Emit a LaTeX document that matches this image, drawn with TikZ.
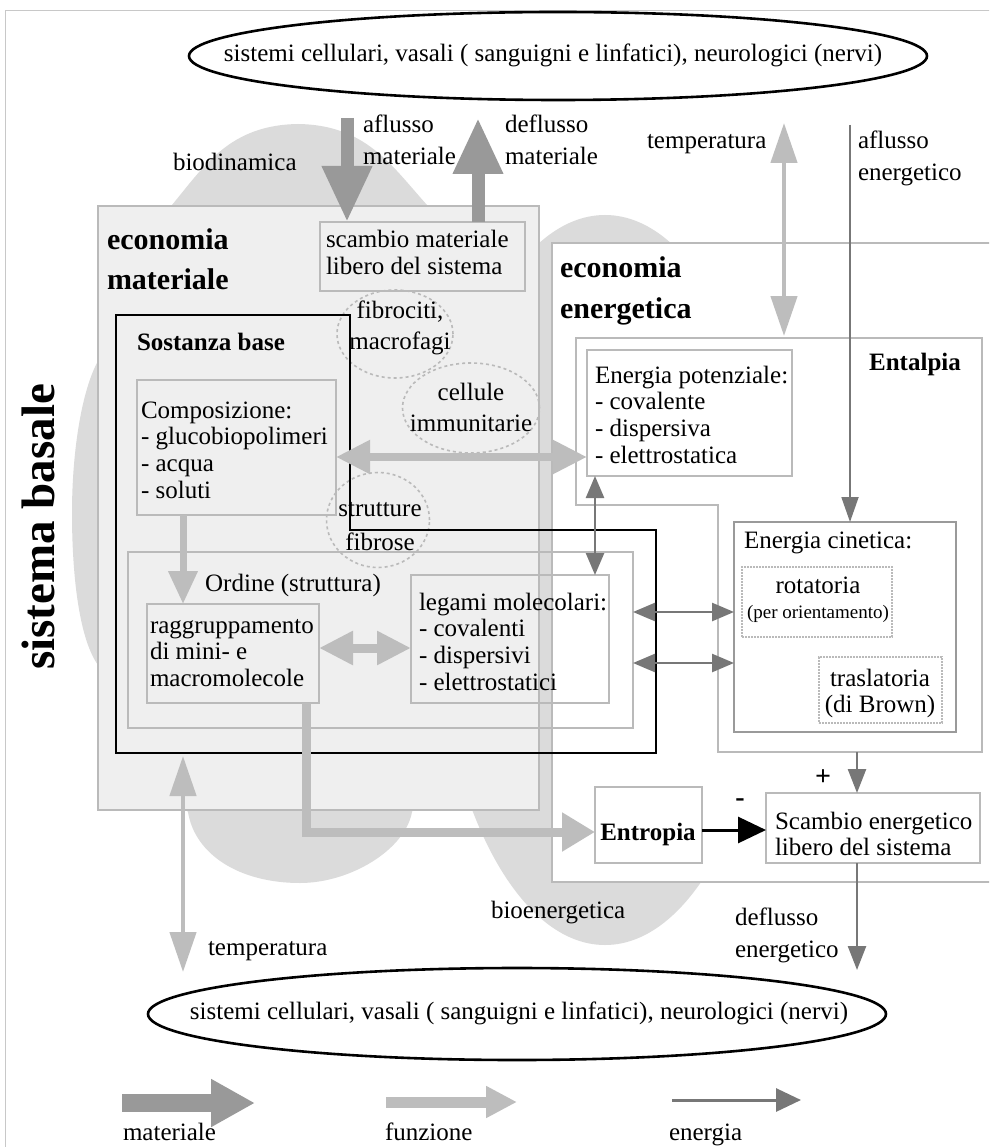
\documentclass[tikz,border=0pt]{standalone}
\usepackage{fontspec}
\setmainfont{Liberation Serif}
\usetikzlibrary{arrows.meta,shapes.geometric}
\definecolor{blobgray}{HTML}{DBDBDB}
\definecolor{matfill}{HTML}{EFEFEF}
\definecolor{boxline}{HTML}{BABABA}
\definecolor{framegray}{HTML}{C8C8C8}
\definecolor{matarrow}{HTML}{999999}
\definecolor{funarrow}{HTML}{BDBDBD}
\definecolor{enarrow}{HTML}{777777}
\definecolor{cinline}{HTML}{9A9A9A}
\newcommand\Lft[1]{\begin{tabular}[t]{@{}l@{}}#1\end{tabular}}
\newcommand\Ctr[1]{\begin{tabular}[t]{@{}c@{}}#1\end{tabular}}
\begin{document}
\begin{tikzpicture}[x=1pt,y=-1pt,
  every node/.style={inner sep=0pt,outer sep=0pt},
  body/.style={font=\fontsize{25}{26.7}\selectfont},
  lab/.style={font=\fontsize{25}{32}\selectfont},
  cellt/.style={font=\fontsize{25}{31}\selectfont},
  head/.style={font=\fontsize{30}{40}\selectfont\bfseries},
  bhead/.style={font=\fontsize{25}{27}\selectfont\bfseries},
  small/.style={font=\fontsize{19}{22}\selectfont},
  matbox/.style={draw=boxline,line width=1.4pt,fill=matfill,rectangle},
  enebox/.style={draw=boxline,line width=1.6pt,fill=white,rectangle},
  gbox/.style={draw=boxline,line width=2.6pt,rectangle},
  tbox/.style={draw=boxline,line width=1.6pt,rectangle},
  cinbox/.style={draw=cinline,line width=2.2pt,rectangle},
  dbox/.style={draw=boxline,line width=2pt,densely dotted,rectangle},
  cell/.style={draw=boxline,line width=1.6pt,dashed,ellipse},
  ring/.style={draw=black,line width=2.6pt,ellipse},
  matarr/.style={draw=matarrow,line width=13pt,-{Triangle[length=56pt,width=47pt]}},
  funarr/.style={draw=funarrow,line width=7pt,-{Triangle[length=33pt,width=28pt]}},
  fundbl/.style={draw=funarrow,line width=9pt,{Triangle[length=34pt,width=32pt]}-{Triangle[length=34pt,width=32pt]}},
  tmpdbl/.style={draw=funarrow,line width=4.5pt,{Triangle[length=40pt,width=26pt]}-{Triangle[length=40pt,width=26pt]}},
  enarr/.style={draw=enarrow,line width=2.5pt,-{Triangle[length=24pt,width=18pt]}},
  endbl/.style={draw=enarrow,line width=2.5pt,{Triangle[length=22pt,width=18pt]}-{Triangle[length=22pt,width=18pt]}},
  blackarr/.style={draw=black,line width=3pt,-{Triangle[length=28pt,width=26pt]}},
]
\useasboundingbox (0,0) rectangle (989,1147);
\clip (0,0) rectangle (989,1147);
\fill[white] (0,0) rectangle (989,1147);
% page frame
\draw[framegray,line width=1pt] (5,11) rectangle (1000,1200);

% background regions: biodinamica (left) and bioenergetica (right)
\fill[blobgray] (160,230) -- (172,205)
  .. controls (205,165) and (230,125) .. (298,124)
  .. controls (366,125) and (391,165) .. (427,205)
  -- (440,230) -- (420,790) -- (412,812)
  .. controls (405,850) and (350,883) .. (300,883)
  .. controls (240,883) and (195,855) .. (188,812)
  -- (110,700) -- (98,665)
  .. controls (80,640) and (72,580) .. (72,513)
  .. controls (72,450) and (82,390) .. (98,361)
  -- (120,300) -- cycle;
\fill[blobgray] (605,580) ellipse [x radius=171, y radius=365];

% the two economies
\node[matbox,minimum width=441pt,minimum height=604pt] (mat) at (318.5,508) {};
\node[enebox,minimum width=448pt,minimum height=639pt] (ene) at (776,562.5) {};

% enthalpy frame
\draw[boxline,line width=2.6pt] (576,338) -- (982,338) -- (982,752) -- (718,752) -- (718,505) -- (576,505) -- cycle;
\coordinate (entTop) at (784,336);
\coordinate (entBot) at (857,752);

% outer rings
\node[ring,minimum width=738pt,minimum height=88pt] (topRing) at (558,56) {};
\node[body] (topTxt) at (553,55) {sistemi cellulari, vasali ( sanguigni e linfatici), neurologici (nervi)};
\node[ring,minimum width=738pt,minimum height=92pt] (botRing) at (517,1014) {};
\node[body] (botTxt) at (519,1013) {sistemi cellulari, vasali ( sanguigni e linfatici), neurologici (nervi)};

% side title
\node[font=\fontsize{47}{50}\selectfont\bfseries,rotate=90] (title) at (38,527) {sistema basale};

% headings and outer labels
\node[head,anchor=base west] (matHead) at (107,250) {\Lft{economia\\materiale}};
\node[head,anchor=base west] (eneHead) at (560,278) {\Lft{economia\\energetica}};
\node[lab,anchor=base west] (biod) at (173,171) {biodinamica};
\node[lab,anchor=base west] (aflM) at (363,133) {\Lft{aflusso\\materiale}};
\node[lab,anchor=base west] (deflM) at (505,133) {\Lft{deflusso\\materiale}};
\node[lab,anchor=base west] (tempTop) at (647,149) {temperatura};
\node[lab,anchor=base west] (aflE) at (858,149) {\Lft{aflusso\\energetico}};

% material exchange
\node[gbox,minimum width=205pt,minimum height=69pt] (scm) at (422.5,256.5) {};
\node[body,anchor=base west] (scmTxt) at (326,248) {\Lft{scambio materiale\\libero del sistema}};

% ordering box and its contents
\node[gbox,minimum width=505pt,minimum height=176pt] (ord) at (380.5,640) {};
\node[body,anchor=base] (ordTxt) at (293,591) {Ordine (struttura)};
\node[tbox,minimum width=172pt,minimum height=99pt] (ragg) at (233,653.5) {};
\node[body,anchor=base west] (raggTxt) at (150,633) {\Lft{raggruppamento\\di mini- e\\macromolecole}};
\node[tbox,minimum width=198pt,minimum height=128pt] (leg) at (510,639) {};
\node[body,anchor=base west] (legTxt) at (419,610) {\Lft{legami molecolari:\\- covalenti\\- dispersivi\\- elettrostatici}};

% composition
\node[gbox,minimum width=199pt,minimum height=135pt] (comp) at (236.5,447.5) {};
\node[body,anchor=base west] (compTxt) at (141,418) {\Lft{Composizione:\\- glucobiopolimeri\\- acqua\\- soluti}};

% cells
\node[cell,minimum width=116pt,minimum height=88pt] (fibro) at (395,334) {};
\node[cellt,anchor=base] (fibroTxt) at (400,318) {\Ctr{fibrociti,\\macrofagi}};
\node[cell,minimum width=137pt,minimum height=90pt] (immun) at (471,408) {};
\node[cellt,anchor=base] (immunTxt) at (471,400) {\Ctr{cellule\\immunitarie}};
\node[cell,minimum width=103pt,minimum height=95pt] (strutt) at (378,520) {};
\node[font=\fontsize{25}{34}\selectfont,anchor=base] (struttTxt) at (380,516) {\Ctr{strutture\\fibrose}};

% ground substance outline
\draw[black,line width=2.2pt] (116,315) -- (350,315) -- (350,530) -- (656,530) -- (656,753) -- (116,753) -- cycle;
\node[bhead,anchor=base west] (sostTxt) at (137,350) {Sostanza base};

% energy side
\node[tbox,minimum width=205pt,minimum height=126pt] (epot) at (689.5,413) {};
\node[body,anchor=base west] (epotTxt) at (595,383) {\Lft{Energia potenziale:\\- covalente\\- dispersiva\\- elettrostatica}};
\node[bhead,anchor=base] (entalTxt) at (915,370) {Entalpia};
\node[cinbox,minimum width=222pt,minimum height=210pt] (ecin) at (845,627) {};
\node[body,anchor=base west] (ecinTxt) at (744,548) {Energia cinetica:};
\node[dbox,minimum width=150pt,minimum height=70pt] (rot) at (817,602) {};
\node[body,anchor=base] (rotTxt) at (818,593) {rotatoria};
\node[small,anchor=base] (rotSub) at (818,618) {(per orientamento)};
\node[dbox,minimum width=123pt,minimum height=66pt] (tras) at (880.5,690) {};
\node[body,anchor=base] (trasTxt) at (880,686) {\Ctr{traslatoria\\(di Brown)}};

\node[gbox,minimum width=107pt,minimum height=76pt] (entr) at (648.5,825) {};
\node[bhead,anchor=base] (entrTxt) at (648,840) {Entropia};
\node[gbox,minimum width=214pt,minimum height=70pt] (sce) at (873,828) {};
\node[body,anchor=base west] (sceTxt) at (775,829) {\Lft{Scambio energetico\\libero del sistema}};
\node[font=\fontsize{28}{30}\selectfont\bfseries] (plus) at (823,778) {+};
\node[font=\fontsize{28}{30}\selectfont\bfseries] (minus) at (740,803) {-};

\node[lab,anchor=base west] (bioen) at (491,918) {bioenergetica};
\node[lab,anchor=base west] (deflE) at (735,925) {\Lft{deflusso\\energetico}};
\node[lab,anchor=base west] (tempBot) at (208,955) {temperatura};

% connectors
\coordinate (aflMTop) at (347,118);
\coordinate (deflMTop) at (478,118);
\coordinate (tempTopEnd) at (784,123);
\coordinate (aflETop) at (850,125);
\coordinate (y457) at (0,457);
\coordinate (y648) at (0,648);
\coordinate (y612) at (0,612);
\coordinate (y663) at (0,663);
\coordinate (y830) at (0,830);
\coordinate (y832) at (0,832);
\coordinate (deflEEnd) at (857,970);
\coordinate (tempBotTop) at (183,756);
\coordinate (tempBotEnd) at (183,972);

\draw[matarr] (aflMTop) -- (aflMTop |- scm.north);
\draw[matarr] (deflMTop |- scm.north) -- (deflMTop);
\draw[tmpdbl] (tempTopEnd) -- (entTop);
\draw[draw=enarrow,line width=1.8pt,-{Triangle[length=25pt,width=17pt]}] (aflETop) -- (aflETop |- ecin.north);
\draw[funarr] (comp.south -| tempBotTop) -- (ragg.north -| tempBotTop);
\draw[fundbl] (ragg.east |- y648) -- (leg.west |- y648);
\draw[fundbl,line width=8pt] (comp.east |- y457) -- (epot.west |- y457);
\draw[draw=funarrow,line width=9pt,-{Triangle[length=33pt,width=37pt]}] (ragg.south -| 306,0) |- (entr.west |- y832);
\draw[endbl] (epot.south -| 595,0) -- (leg.north -| 595,0);
\draw[endbl] (ord.east |- y612) -- (ecin.west |- y612);
\draw[endbl] (ord.east |- y663) -- (ecin.west |- y663);
\draw[enarr] (entBot) -- (sce.north -| entBot);
\draw[blackarr] (entr.east |- y830) -- (sce.west |- y830);
\draw[enarr] (sce.south -| deflEEnd) -- (deflEEnd);
\draw[tmpdbl] (tempBotTop) -- (tempBotEnd);

% legend
\coordinate (lgM1) at (122,1103);
\coordinate (lgM2) at (255,1103);
\coordinate (lgF1) at (386,1102);
\coordinate (lgF2) at (517,1102);
\coordinate (lgE1) at (672,1100);
\coordinate (lgE2) at (801,1100);
\draw[draw=matarrow,line width=18pt,-{Triangle[length=44pt,width=45pt]}] (lgM1) -- (lgM2);
\draw[draw=funarrow,line width=11pt,-{Triangle[length=31pt,width=30pt]}] (lgF1) -- (lgF2);
\draw[draw=enarrow,line width=3pt,-{Triangle[length=25pt,width=23pt]}] (lgE1) -- (lgE2);
\node[lab,anchor=base west] (lgMTxt) at (123,1140) {materiale};
\node[lab,anchor=base west] (lgFTxt) at (385,1140) {funzione};
\node[lab,anchor=base west] (lgETxt) at (669,1140) {energia};
\end{tikzpicture}
\end{document}
